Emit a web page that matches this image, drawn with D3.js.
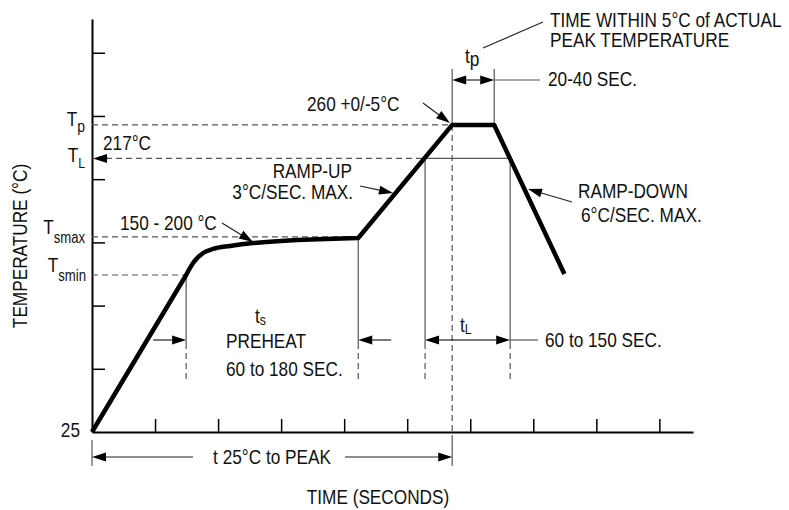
<!DOCTYPE html>
<html>
<head>
<meta charset="utf-8">
<script src="https://cdn.jsdelivr.net/npm/d3@7"></script>
<style>
    body { margin: 0; background: #fff; }
    svg text {
        font-family: "Liberation Sans", Arial, sans-serif;
        font-size: 21px;
        fill: #111;
    }
</style>
</head>
<body>
<div id="chart"></div>
<script>
// Achsen-Ticks (keine Beschriftung, nur Striche)
const xTicks = [30, 60, 90, 120, 150, 180, 210, 240, 270];
const yTicks = [75, 125, 175, 225, 275, 325];

const rampTime = [0, 44.8];
const rampTemp = [25, 149.2];
const soakTime = [44.8, 48.1, 52.9, 57.6, 65.7, 76.7, 126.7];
const soakTemp = [149.2, 158.7, 166.6, 169.8, 172.2, 174.5, 178.5];
const peakTime = [126.7, 171.4, 191.4, 224.8];
const peakTemp = [178.5, 267.9, 267.9, 150];

// Temperaturniveaus
const levelNames = ["p", "L", "smax", "smin"];
const levelTemps = [267.9, 241.4, 179.3, 149.2];

// Zeitmarken (s)
const tsStart = 44.8, tsEnd = 126.7, tLStart = 158.5, tLEnd = 199, tpStart = 171.4, tpEnd = 191.4;

const width = 789, height = 510;
const narrow = 0.82; // schmale Schrift nachbilden

const svg = d3.select("#chart")
    .append("svg")
    .attr("width", width)
    .attr("height", height);

const x = d3.scaleLinear().domain([0, 286]).range([92, 693]);
const y = d3.scaleLinear().domain([25, 351.7]).range([432, 19]);

const level = name => levelTemps[levelNames.indexOf(name)];

const grey = "#555";
const dash = "6,4";

// Achsen
const xAxis = svg.append("g")
    .attr("transform", `translate(0,${y(25)})`)
    .call(d3.axisBottom(x).tickValues(xTicks).tickSizeInner(-13).tickSizeOuter(0).tickFormat(""));
const yAxis = svg.append("g")
    .attr("transform", `translate(${x(0)},0)`)
    .call(d3.axisLeft(y).tickValues(yTicks).tickSizeInner(-13).tickSizeOuter(0).tickFormat(""));
[xAxis, yAxis].forEach(a => {
    a.select(".domain").attr("stroke", "#000").attr("stroke-width", 2);
    a.selectAll(".tick line").attr("stroke", "#000").attr("stroke-width", 1.5);
});

function hline(x1, x2, yy, dashed) {
    svg.append("line")
        .attr("x1", x1).attr("x2", x2).attr("y1", yy).attr("y2", yy)
        .attr("stroke", grey).attr("stroke-width", 1.2)
        .attr("stroke-dasharray", dashed ? dash : null);
}
function vline(xx, y1, y2, dashed) {
    svg.append("line")
        .attr("x1", xx).attr("x2", xx).attr("y1", y1).attr("y2", y2)
        .attr("stroke", grey).attr("stroke-width", 1.2)
        .attr("stroke-dasharray", dashed ? dash : null);
}
// Pfeil mit gefüllter Spitze bei (x2,y2)
function arrow(x1, y1, x2, y2, len = 14, half = 4.5) {
    const a = Math.atan2(y2 - y1, x2 - x1);
    const bx = x2 - len * Math.cos(a), by = y2 - len * Math.sin(a);
    svg.append("line")
        .attr("x1", x1).attr("y1", y1).attr("x2", bx).attr("y2", by)
        .attr("stroke", "#222").attr("stroke-width", 1.2);
    const px = -Math.sin(a) * half, py = Math.cos(a) * half;
    svg.append("path")
        .attr("d", `M${x2},${y2}L${bx + px},${by + py}L${bx - px},${by - py}Z`)
        .attr("fill", "#000");
}

// Niveaulinien
hline(x(0), x(tpStart), y(level("p")), true);
hline(x(0) + 14, x(tLStart), y(level("L")), true);
arrow(x(0) + 16, y(level("L")), x(0) + 1, y(level("L")));
hline(x(tLStart), x(tLEnd), y(level("L")), false);
hline(x(0), x(tsEnd), y(level("smax")), true);
hline(x(0), x(tsStart), y(level("smin")), true);

// Senkrechte Hilfslinien
const dimY = 340, dimEnd = 380;
vline(x(tsStart), y(level("smin")), dimY + 3, false);
vline(x(tsStart), dimY + 3, dimEnd, true);
vline(x(tsEnd), y(soakTemp[soakTemp.length - 1]), dimY + 3, false);
vline(x(tsEnd), dimY + 3, dimEnd, true);
vline(x(tLStart), y(level("L")), dimY + 3, false);
vline(x(tLStart), dimY + 3, dimEnd, true);
vline(x(tLEnd), y(level("L")), dimY + 3, false);
vline(x(tLEnd), dimY + 3, dimEnd, true);
vline(x(tpStart), y(level("p")), y(25) + 8, true);
vline(x(tpStart), y(25) + 8, y(25) + 34, false);
vline(x(0), y(25) + 8, y(25) + 34, false);
vline(x(tpStart), 69, y(level("p")), false);
vline(x(tpEnd), 69, y(level("p")), false);

// Masspfeile
const tpY = 80;
arrow(x(tpStart) + 20, tpY, x(tpStart), tpY);
arrow(x(tpStart) + 20, tpY, x(tpEnd), tpY);
hline(x(tpEnd), 540, tpY, false);

arrow(x(tsStart) - 33, dimY, x(tsStart), dimY);
arrow(x(tsEnd) + 33, dimY, x(tsEnd), dimY);

arrow(x(tLStart) + 40, dimY, x(tLStart), dimY);
arrow(x(tLStart) + 40, dimY, x(tLEnd), dimY);
hline(x(tLEnd), 538, dimY, false);

const peakY = y(25) + 25;
arrow(193, peakY, x(0), peakY);
arrow(345, peakY, x(tpStart), peakY);

// Profilkurve
const lin = d3.line().x(d => x(d[0])).y(d => y(d[1]));
const mono = d3.line().x(d => x(d[0])).y(d => y(d[1])).curve(d3.curveMonotoneX);
const pts = (t, v) => t.map((d, i) => [d, v[i]]);
const pathD = lin(pts(rampTime, rampTemp))
    + mono(pts(soakTime, soakTemp)).replace(/^M/, "L")
    + lin(pts(peakTime, peakTemp)).replace(/^M/, "L");
svg.append("path")
    .attr("d", pathD)
    .attr("fill", "none")
    .attr("stroke", "#000")
    .attr("stroke-width", 4.5)
    .attr("stroke-linejoin", "round");

// Hinweis-Pfeile
arrow(222, 223, 253, 242);
arrow(423, 103, 450, 123);
arrow(360, 186, 393, 193);
arrow(572, 202, 528, 189);
svg.append("line")
    .attr("x1", 483).attr("y1", 48).attr("x2", 543).attr("y2", 22)
    .attr("stroke", "#222").attr("stroke-width", 1.2);

// Texte (horizontal gestaucht wie im Original)
function label(tx, ty, txt, anchor) {
    return svg.append("text")
        .attr("transform", `translate(${tx},${ty}) scale(${narrow},1)`)
        .attr("text-anchor", anchor || "start")
        .text(txt);
}
function subLabel(tx, ty, main, sub, subSize, shift, anchor) {
    const t = svg.append("text")
        .attr("transform", `translate(${tx},${ty}) scale(${narrow},1)`)
        .attr("text-anchor", anchor || "start");
    t.append("tspan").text(main);
    t.append("tspan").attr("dy", shift).style("font-size", subSize + "px").text(sub);
    return t;
}

subLabel(85, y(level("p")) + 1, "T", "p", 17, 6, "end");
subLabel(85, y(level("L")) + 4, "T", "L", 15, 6, "end");
subLabel(85, y(level("smax")) - 3, "T", "smax", 16, 9, "end");
subLabel(86, y(level("smin")) - 3, "T", "smin", 16, 9, "end");
label(80, 437, "25", "end");

label(103, 150, "217°C");
label(120, 230, "150 - 200 °C");
label(307, 111, "260 +0/-5°C");
label(352, 178, "RAMP-UP", "end");
label(353, 199, "3°C/SEC. MAX.", "end");
label(578, 198, "RAMP-DOWN");
label(581, 222, "6°C/SEC. MAX.");
label(550, 27, "TIME WITHIN 5°C of ACTUAL");
label(550, 47, "PEAK TEMPERATURE");
label(548, 86, "20-40 SEC.");
subLabel(465, 63, "t", "p", 21, 3);
subLabel(255, 323, "t", "s", 15, 2);
label(226, 348, "PREHEAT");
label(226, 376, "60 to 180 SEC.");
subLabel(460, 332, "t", "L", 15, 2);
label(545, 347, "60 to 150 SEC.");
label(272, 464, "t 25°C to PEAK", "middle");
label(378, 504, "TIME (SECONDS)", "middle");
svg.append("text")
    .attr("transform", `translate(27,246) rotate(-90) scale(${narrow},1)`)
    .attr("text-anchor", "middle")
    .text("TEMPERATURE (°C)");
</script>
</body>
</html>
